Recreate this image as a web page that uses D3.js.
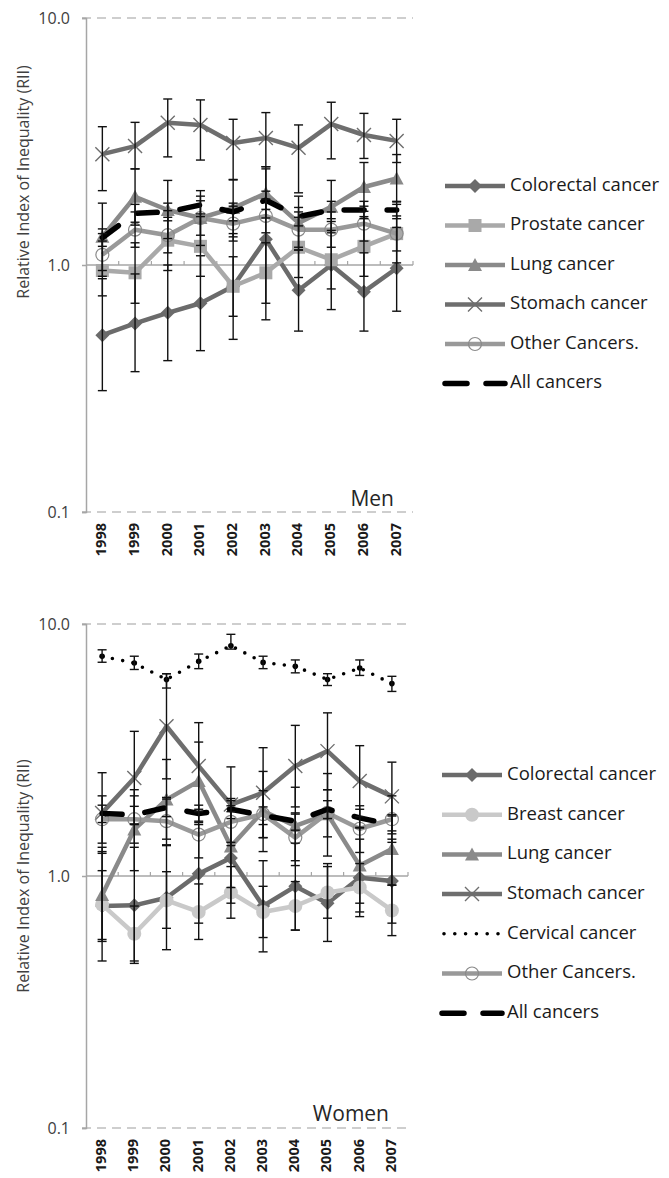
<!DOCTYPE html>
<html>
<head>
<meta charset="utf-8">
<script src="https://cdn.jsdelivr.net/npm/d3@7"></script>
<style>
  body { margin: 0; background: #fff; }
  svg { display: block; }
</style>
</head>
<body>
<div id="chart"></div>
<script>
const years = ['1998', '1999', '2000', '2001', '2002', '2003', '2004', '2005', '2006', '2007'];
const yTicks = [0.1, 1, 10];

// Men
const colorectalMen = [0.52, 0.58, 0.64, 0.70, 0.82, 1.27, 0.79, 1.00, 0.78, 0.97];
const colorectalMenLo = [0.31, 0.37, 0.41, 0.45, 0.50, 0.60, 0.54, 0.66, 0.54, 0.65];
const colorectalMenHi = [0.88, 0.92, 1.00, 1.09, 1.34, 2.50, 1.15, 1.50, 1.12, 1.42];
const prostateMen = [0.95, 0.93, 1.26, 1.19, 0.82, 0.93, 1.18, 1.05, 1.19, 1.34];
const prostateMenLo = [0.75, 0.70, 0.95, 0.90, 0.62, 0.70, 0.89, 0.80, 0.90, 1.02];
const prostateMenHi = [1.25, 1.23, 1.66, 1.57, 1.08, 1.23, 1.56, 1.38, 1.57, 1.76];
const lungMen = [1.30, 1.89, 1.67, 1.55, 1.70, 1.95, 1.48, 1.72, 2.07, 2.24];
const lungMenLo = [0.95, 1.45, 1.28, 1.20, 1.30, 1.55, 1.15, 1.35, 1.65, 1.80];
const lungMenHi = [1.78, 2.45, 2.20, 2.00, 2.22, 2.45, 1.90, 2.20, 2.60, 2.80];
const stomachMen = [2.81, 3.03, 3.77, 3.69, 3.12, 3.27, 2.98, 3.72, 3.36, 3.18];
const stomachMenLo = [2.00, 2.45, 2.74, 2.66, 2.21, 2.50, 1.96, 2.69, 2.70, 2.60];
const stomachMenHi = [3.63, 3.78, 4.70, 4.66, 3.89, 4.14, 3.69, 4.56, 4.11, 3.89];
const otherMen = [1.10, 1.39, 1.32, 1.55, 1.47, 1.58, 1.39, 1.39, 1.47, 1.34];
const otherMenLo = [0.90, 1.18, 1.12, 1.32, 1.25, 1.35, 1.18, 1.18, 1.25, 1.14];
const otherMenHi = [1.34, 1.64, 1.56, 1.82, 1.73, 1.85, 1.64, 1.64, 1.73, 1.58];
const allMen = [1.29, 1.62, 1.64, 1.75, 1.64, 1.83, 1.57, 1.67, 1.67, 1.67];
const allMenLo = [1.19, 1.49, 1.51, 1.61, 1.51, 1.68, 1.44, 1.54, 1.54, 1.54];
const allMenHi = [1.40, 1.76, 1.78, 1.90, 1.78, 1.99, 1.71, 1.81, 1.81, 1.81];

// Women
const colorectalWomen = [0.76, 0.765, 0.82, 1.02, 1.18, 0.76, 0.91, 0.78, 0.985, 0.955];
const colorectalWomenLo = [0.46, 0.45, 0.51, 0.65, 0.78, 0.50, 0.61, 0.55, 0.69, 0.65];
const colorectalWomenHi = [1.25, 1.30, 1.32, 1.60, 1.80, 1.15, 1.35, 1.12, 1.40, 1.40];
const breastWomen = [0.77, 0.59, 0.80, 0.72, 0.86, 0.72, 0.76, 0.86, 0.90, 0.73];
const breastWomenLo = [0.56, 0.46, 0.62, 0.56, 0.68, 0.57, 0.61, 0.68, 0.72, 0.58];
const breastWomenHi = [1.05, 0.76, 1.04, 0.93, 1.09, 0.91, 0.95, 1.09, 1.12, 0.92];
const lungWomen = [0.84, 1.53, 2.01, 2.38, 1.31, 1.81, 1.58, 1.76, 1.10, 1.28];
const lungWomenLo = [0.55, 1.05, 1.40, 1.65, 0.90, 1.25, 1.10, 1.20, 0.78, 0.92];
const lungWomenHi = [1.30, 2.20, 2.90, 3.40, 1.90, 2.60, 2.25, 2.55, 1.55, 1.75];
const stomachWomen = [1.78, 2.45, 3.93, 2.73, 1.92, 2.14, 2.73, 3.13, 2.38, 2.07];
const stomachWomenLo = [1.23, 1.60, 2.43, 1.84, 1.36, 1.42, 1.88, 2.20, 1.72, 1.51];
const stomachWomenHi = [2.57, 3.75, 6.35, 4.06, 2.71, 3.23, 3.96, 4.44, 3.29, 2.83];
const cervicalWomen = [7.44, 7.00, 6.02, 7.11, 8.20, 7.04, 6.79, 6.02, 6.69, 5.80];
const cervicalWomenLo = [7.05, 6.60, 5.57, 6.65, 7.95, 6.65, 6.40, 5.70, 6.25, 5.40];
const cervicalWomenHi = [7.90, 7.45, 6.35, 7.60, 9.10, 7.45, 7.20, 6.35, 7.20, 6.20];
const otherWomen = [1.68, 1.68, 1.65, 1.46, 1.64, 1.76, 1.42, 1.78, 1.54, 1.68];
const otherWomenLo = [1.35, 1.35, 1.33, 1.18, 1.32, 1.42, 1.15, 1.43, 1.24, 1.36];
const otherWomenHi = [2.08, 2.08, 2.05, 1.80, 2.03, 2.18, 1.76, 2.20, 1.90, 2.08];
const allWomen = [1.77, 1.75, 1.87, 1.77, 1.84, 1.74, 1.65, 1.84, 1.70, 1.60];
const allWomenLo = [1.63, 1.61, 1.72, 1.63, 1.69, 1.60, 1.52, 1.69, 1.56, 1.47];
const allWomenHi = [1.91, 1.89, 2.02, 1.91, 1.99, 1.88, 1.78, 1.99, 1.84, 1.73];

const FONT = "'Open Sans', sans-serif";

// styles per cancer type
const styles = {
  'Colorectal cancer': {color: '#6b6b6b', marker: 'diamond'},
  'Prostate cancer': {color: '#a9a9a9', marker: 'square'},
  'Breast cancer': {color: '#c9c9c9', marker: 'circle'},
  'Lung cancer': {color: '#8a8a8a', marker: 'triangle'},
  'Stomach cancer': {color: '#6e6e6e', marker: 'cross'},
  'Cervical cancer': {color: '#000', marker: 'dot', dotted: true},
  'Other Cancers.': {color: '#999999', marker: 'ring'},
  'All cancers': {color: '#000', marker: 'none', dashed: true}
};

const svg = d3.select('#chart').append('svg')
  .attr('width', 669)
  .attr('height', 1178);

function drawMarker(g, type, color) {
  if (type === 'diamond') {
    g.append('path').attr('d', 'M0,-7L7,0L0,7L-7,0Z').attr('fill', color);
  } else if (type === 'square') {
    g.append('rect').attr('x', -6.5).attr('y', -6.5).attr('width', 13).attr('height', 13).attr('fill', color);
  } else if (type === 'triangle') {
    g.append('path').attr('d', 'M0,-7L7,6L-7,6Z').attr('fill', color);
  } else if (type === 'circle') {
    g.append('circle').attr('r', 7).attr('fill', color);
  } else if (type === 'ring') {
    g.append('circle').attr('r', 6.5).attr('fill', 'none').attr('stroke', '#8a8a8a').attr('stroke-width', 1.2);
  } else if (type === 'cross') {
    g.append('path').attr('d', 'M-7,-7L7,7M-7,7L7,-7').attr('stroke', color).attr('stroke-width', 1.4);
  } else if (type === 'dot') {
    g.append('circle').attr('r', 2.8).attr('fill', color);
  }
}

function styleLine(sel, st) {
  sel.attr('fill', 'none')
    .attr('stroke', st.color)
    .attr('stroke-linejoin', 'round');
  if (st.dashed) {
    sel.attr('stroke-width', 5.5).attr('stroke-dasharray', '20,23').attr('stroke-linecap', 'round');
  } else if (st.dotted) {
    sel.attr('stroke-width', 3.6).attr('stroke-dasharray', '0,10.5').attr('stroke-linecap', 'round');
  } else {
    sel.attr('stroke-width', 4.5);
  }
}

function drawPanel(p) {
  const x = d3.scaleBand().domain(years).range([p.left, p.right]);
  const y = d3.scaleLog().domain([0.1, 10]).range([p.bottom, p.top]);
  const cx = d => x(d) + x.bandwidth() / 2;
  const g = svg.append('g');

  // dashed gridlines at 0.1 and 10
  g.selectAll('.grid')
    .data(yTicks.filter(t => t !== 1))
    .enter().append('line')
    .attr('x1', p.left - 4).attr('x2', p.right)
    .attr('y1', d => y(d)).attr('y2', d => y(d))
    .attr('stroke', '#bfbfbf')
    .attr('stroke-width', 1.5)
    .attr('stroke-dasharray', '9,6');

  // y axis
  const yAxis = d3.axisLeft(y).tickValues(yTicks).tickSize(4).tickFormat(d3.format('.1f'));
  const ya = g.append('g').attr('transform', `translate(${p.left},0)`).call(yAxis);
  ya.select('.domain').attr('stroke', '#a6a6a6').attr('stroke-width', 1.5);
  ya.selectAll('.tick line').attr('stroke', '#a6a6a6').attr('stroke-width', 1.5);
  ya.selectAll('.tick text')
    .attr('x', -16)
    .attr('font-family', FONT)
    .attr('font-size', '16px')
    .attr('fill', '#404040');

  // category axis crossing at 1.0
  g.append('line')
    .attr('x1', p.left).attr('x2', p.right)
    .attr('y1', y(1)).attr('y2', y(1))
    .attr('stroke', '#a6a6a6').attr('stroke-width', 1.5);
  g.selectAll('.cat-tick')
    .data(years)
    .enter().append('line')
    .attr('x1', d => x(d) + x.bandwidth()).attr('x2', d => x(d) + x.bandwidth())
    .attr('y1', y(1)).attr('y2', y(1) - 4)
    .attr('stroke', '#a6a6a6').attr('stroke-width', 1.2);

  // year labels at the bottom
  g.selectAll('.year')
    .data(years)
    .enter().append('text')
    .attr('transform', d => `translate(${cx(d)},${p.bottom + 11}) rotate(-90)`)
    .attr('text-anchor', 'end')
    .attr('dominant-baseline', 'middle')
    .attr('font-family', FONT)
    .attr('font-size', '14.5px')
    .attr('font-weight', 'bold')
    .attr('fill', '#1a1a1a')
    .text(d => d);

  // axis title
  g.append('text')
    .attr('transform', `translate(25,${p.titleY}) rotate(-90)`)
    .attr('text-anchor', 'middle')
    .attr('dominant-baseline', 'middle')
    .attr('font-family', FONT)
    .attr('font-size', '16px')
    .attr('fill', '#404040')
    .text('Relative Index of Inequality (RII)');

  // panel label
  g.append('text')
    .attr('x', p.right - 19)
    .attr('y', p.labelY)
    .attr('text-anchor', 'end')
    .attr('font-family', FONT)
    .attr('font-size', '21px')
    .attr('fill', '#262626')
    .text(p.label);

  const line = d3.line().x(d => cx(d.year)).y(d => y(d.v));

  p.series.forEach(s => {
    const st = styles[s.name];
    const pts = years.map((yr, i) => ({year: yr, v: s.values[i]}));
    const path = g.append('path').datum(pts).attr('d', line);
    styleLine(path, st);
    g.selectAll(null)
      .data(pts)
      .enter().append('g')
      .attr('transform', d => `translate(${cx(d.year)},${y(d.v)})`)
      .each(function() { drawMarker(d3.select(this), st.marker, st.color); });
  });

  // error bars on top
  p.series.forEach(s => {
    const bars = years.map((yr, i) => ({year: yr, lo: s.lo[i], hi: s.hi[i]}));
    const eb = g.append('g').attr('stroke', '#111').attr('stroke-width', 1.4);
    eb.selectAll('.stem').data(bars).enter().append('line')
      .attr('x1', d => cx(d.year)).attr('x2', d => cx(d.year))
      .attr('y1', d => y(d.lo)).attr('y2', d => y(d.hi));
    eb.selectAll('.caplo').data(bars).enter().append('line')
      .attr('x1', d => cx(d.year) - 4.5).attr('x2', d => cx(d.year) + 4.5)
      .attr('y1', d => y(d.lo)).attr('y2', d => y(d.lo));
    eb.selectAll('.caphi').data(bars).enter().append('line')
      .attr('x1', d => cx(d.year) - 4.5).attr('x2', d => cx(d.year) + 4.5)
      .attr('y1', d => y(d.hi)).attr('y2', d => y(d.hi));
  });

  // legend
  const lg = svg.append('g');
  p.series.forEach((s, i) => {
    const st = styles[s.name];
    const ly = p.legendY + i * p.legendStep;
    const row = lg.append('g').attr('transform', `translate(${p.legendX},${ly})`);
    const seg = row.append('path').attr('d', 'M0,0L60,0');
    styleLine(seg, st);
    if (st.dashed) seg.attr('stroke-dasharray', '22,19');
    if (st.dotted) seg.attr('stroke-dasharray', '0,10.8').attr('transform', 'translate(2,0)');
    if (st.marker !== 'dot' && st.marker !== 'none') {
      const m = row.append('g').attr('transform', 'translate(30,0)');
      drawMarker(m, st.marker, st.color);
    }
    row.append('text')
      .attr('x', 65)
      .attr('y', 0)
      .attr('dominant-baseline', 'middle')
      .attr('font-family', FONT)
      .attr('font-size', '18.5px')
      .attr('fill', '#1a1a1a')
      .text(s.name);
  });
}

drawPanel({
  left: 86, right: 413, top: 18, bottom: 512,
  titleY: 182, label: 'Men', labelY: 506,
  legendX: 445, legendY: 186, legendStep: 39.5,
  series: [
    {name: 'Colorectal cancer', values: colorectalMen, lo: colorectalMenLo, hi: colorectalMenHi},
    {name: 'Prostate cancer', values: prostateMen, lo: prostateMenLo, hi: prostateMenHi},
    {name: 'Lung cancer', values: lungMen, lo: lungMenLo, hi: lungMenHi},
    {name: 'Stomach cancer', values: stomachMen, lo: stomachMenLo, hi: stomachMenHi},
    {name: 'Other Cancers.', values: otherMen, lo: otherMenLo, hi: otherMenHi},
    {name: 'All cancers', values: allMen, lo: allMenLo, hi: allMenHi}
  ]
});

drawPanel({
  left: 86, right: 408, top: 624, bottom: 1128,
  titleY: 876, label: 'Women', labelY: 1121,
  legendX: 442, legendY: 775, legendStep: 39.7,
  series: [
    {name: 'Colorectal cancer', values: colorectalWomen, lo: colorectalWomenLo, hi: colorectalWomenHi},
    {name: 'Breast cancer', values: breastWomen, lo: breastWomenLo, hi: breastWomenHi},
    {name: 'Lung cancer', values: lungWomen, lo: lungWomenLo, hi: lungWomenHi},
    {name: 'Stomach cancer', values: stomachWomen, lo: stomachWomenLo, hi: stomachWomenHi},
    {name: 'Cervical cancer', values: cervicalWomen, lo: cervicalWomenLo, hi: cervicalWomenHi},
    {name: 'Other Cancers.', values: otherWomen, lo: otherWomenLo, hi: otherWomenHi},
    {name: 'All cancers', values: allWomen, lo: allWomenLo, hi: allWomenHi}
  ]
});
</script>
</body>
</html>
